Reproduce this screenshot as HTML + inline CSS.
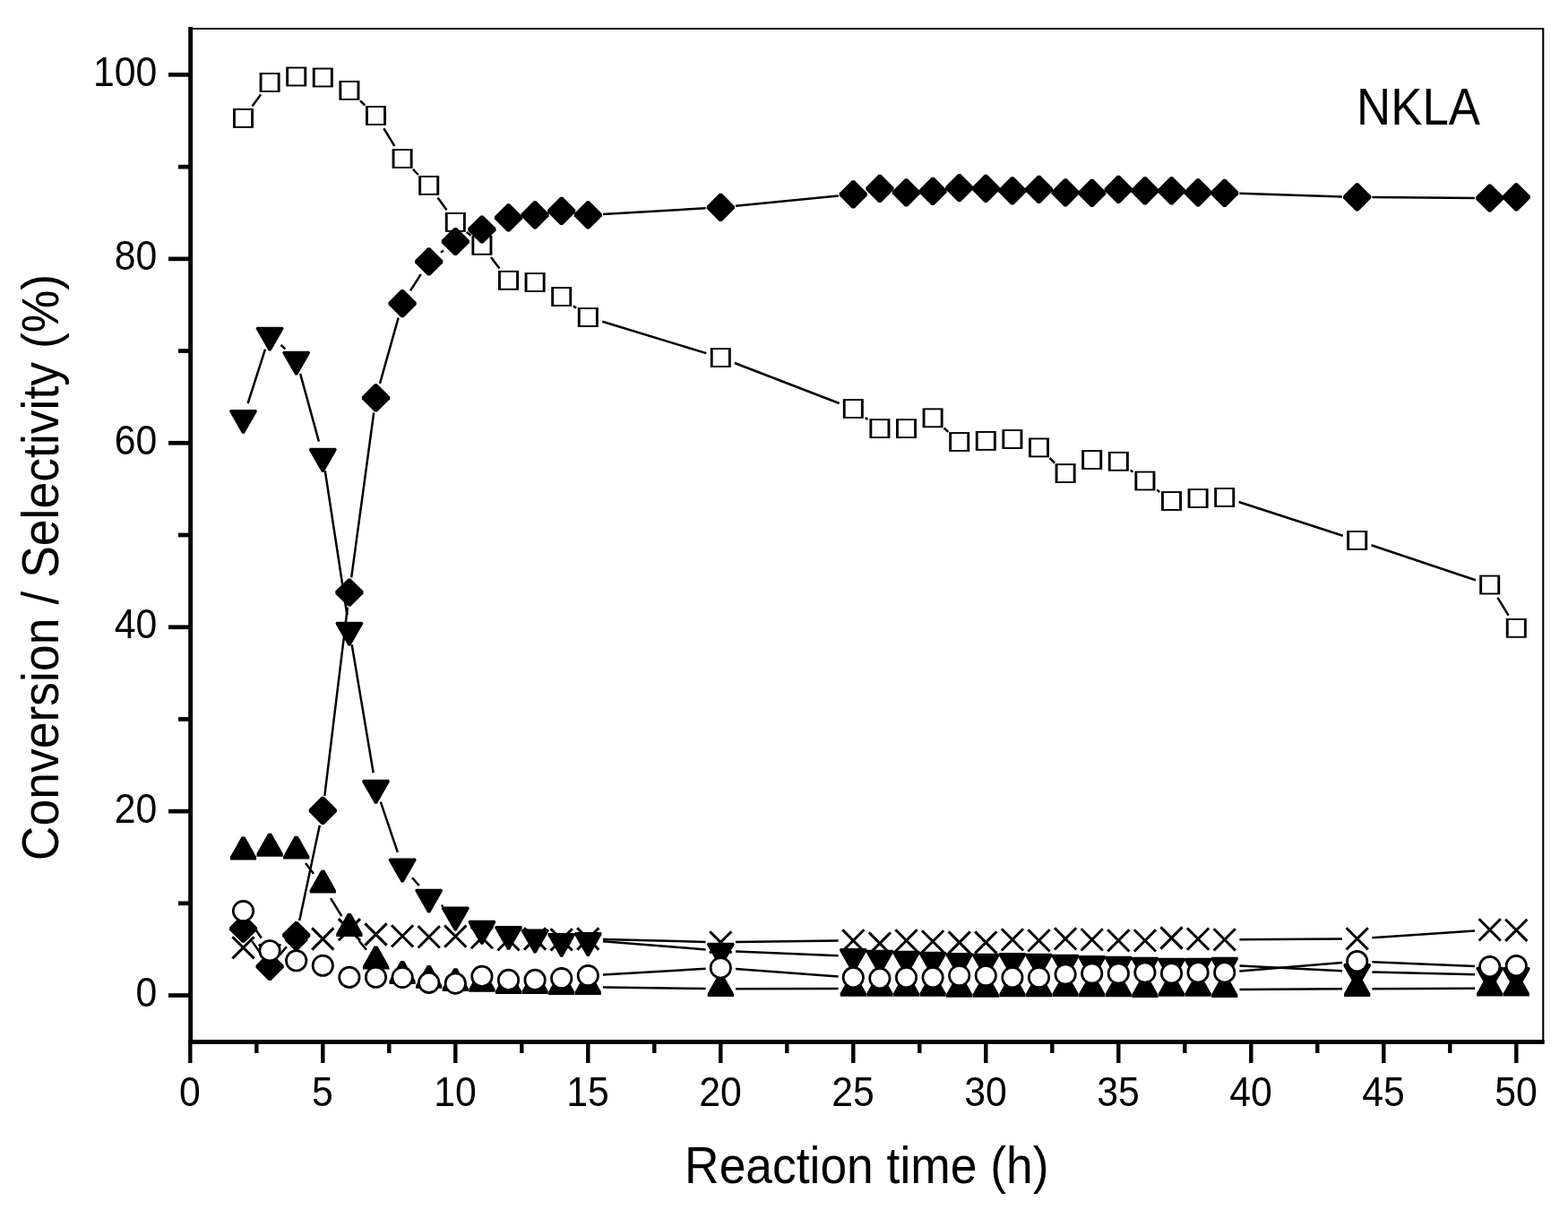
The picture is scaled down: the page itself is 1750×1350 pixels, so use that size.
<!DOCTYPE html>
<html><head><meta charset="utf-8"><title>NKLA</title>
<style>html,body{margin:0;padding:0;background:#fff;overflow:hidden;}svg{display:block;}</style>
</head><body>
<svg width="1750" height="1350" viewBox="0 0 1750 1350">
<rect width="1750" height="1350" fill="#fff"/>
<path d="M281.5 118.5L291.1 105.4M402.0 112.4L407.4 117.5M428.3 143.2L440.3 162.8M460.9 188.8L466.9 195.0M488.5 220.4L498.5 234.3M520.8 258.9L525.4 262.8M548.0 287.1L557.4 299.5M611.8 322.9L612.0 323.0M639.9 341.2L643.1 343.7M672.3 358.8L788.3 394.1M819.9 405.0L936.7 450.0M965.7 466.0L968.5 468.1M1053.5 477.5L1058.3 481.9M1171.5 511.0L1177.1 516.5M1261.8 524.7L1264.4 526.6M1291.2 546.6L1294.2 548.9M1382.6 560.0L1498.8 597.7M1530.5 608.2L1646.9 647.2M1671.4 666.7L1683.6 686.6" stroke="#000" stroke-width="2.5" fill="none"/>
<g fill="#000"><rect x="260.0" y="121.0" width="23" height="21.8" fill="#000"/><rect x="262.9" y="122.9" width="17.2" height="18" fill="#fff"/><rect x="289.6" y="81.1" width="23" height="21.8" fill="#000"/><rect x="292.5" y="83.0" width="17.2" height="18" fill="#fff"/><rect x="319.2" y="74.6" width="23" height="21.8" fill="#000"/><rect x="322.1" y="76.5" width="17.2" height="18" fill="#fff"/><rect x="348.8" y="75.6" width="23" height="21.8" fill="#000"/><rect x="351.7" y="77.5" width="17.2" height="18" fill="#fff"/><rect x="378.4" y="90.0" width="23" height="21.8" fill="#000"/><rect x="381.3" y="91.9" width="17.2" height="18" fill="#fff"/><rect x="408.0" y="118.1" width="23" height="21.8" fill="#000"/><rect x="410.9" y="120.0" width="17.2" height="18" fill="#fff"/><rect x="437.6" y="166.1" width="23" height="21.8" fill="#000"/><rect x="440.5" y="168.0" width="17.2" height="18" fill="#fff"/><rect x="467.2" y="196.0" width="23" height="21.8" fill="#000"/><rect x="470.1" y="197.9" width="17.2" height="18" fill="#fff"/><rect x="496.8" y="237.0" width="23" height="21.8" fill="#000"/><rect x="499.7" y="238.9" width="17.2" height="18" fill="#fff"/><rect x="526.4" y="262.9" width="23" height="21.8" fill="#000"/><rect x="529.3" y="264.8" width="17.2" height="18" fill="#fff"/><rect x="556.0" y="301.9" width="23" height="21.8" fill="#000"/><rect x="558.9" y="303.8" width="17.2" height="18" fill="#fff"/><rect x="585.6" y="304.1" width="23" height="21.8" fill="#000"/><rect x="588.5" y="306.0" width="17.2" height="18" fill="#fff"/><rect x="615.2" y="320.1" width="23" height="21.8" fill="#000"/><rect x="618.1" y="322.0" width="17.2" height="18" fill="#fff"/><rect x="644.8" y="343.1" width="23" height="21.8" fill="#000"/><rect x="647.7" y="345.0" width="17.2" height="18" fill="#fff"/><rect x="792.8" y="388.1" width="23" height="21.8" fill="#000"/><rect x="795.7" y="390.0" width="17.2" height="18" fill="#fff"/><rect x="940.8" y="445.1" width="23" height="21.8" fill="#000"/><rect x="943.7" y="447.0" width="17.2" height="18" fill="#fff"/><rect x="970.4" y="467.2" width="23" height="21.8" fill="#000"/><rect x="973.3" y="469.1" width="17.2" height="18" fill="#fff"/><rect x="1000.0" y="467.2" width="23" height="21.8" fill="#000"/><rect x="1002.9" y="469.1" width="17.2" height="18" fill="#fff"/><rect x="1029.6" y="455.4" width="23" height="21.8" fill="#000"/><rect x="1032.5" y="457.3" width="17.2" height="18" fill="#fff"/><rect x="1059.2" y="482.1" width="23" height="21.8" fill="#000"/><rect x="1062.1" y="484.0" width="17.2" height="18" fill="#fff"/><rect x="1088.8" y="481.0" width="23" height="21.8" fill="#000"/><rect x="1091.7" y="482.9" width="17.2" height="18" fill="#fff"/><rect x="1118.4" y="479.1" width="23" height="21.8" fill="#000"/><rect x="1121.3" y="481.0" width="17.2" height="18" fill="#fff"/><rect x="1148.0" y="488.5" width="23" height="21.8" fill="#000"/><rect x="1150.9" y="490.4" width="17.2" height="18" fill="#fff"/><rect x="1177.6" y="517.2" width="23" height="21.8" fill="#000"/><rect x="1180.5" y="519.1" width="17.2" height="18" fill="#fff"/><rect x="1207.2" y="502.1" width="23" height="21.8" fill="#000"/><rect x="1210.1" y="504.0" width="17.2" height="18" fill="#fff"/><rect x="1236.8" y="503.9" width="23" height="21.8" fill="#000"/><rect x="1239.7" y="505.8" width="17.2" height="18" fill="#fff"/><rect x="1266.4" y="525.6" width="23" height="21.8" fill="#000"/><rect x="1269.3" y="527.5" width="17.2" height="18" fill="#fff"/><rect x="1296.0" y="548.1" width="23" height="21.8" fill="#000"/><rect x="1298.9" y="550.0" width="17.2" height="18" fill="#fff"/><rect x="1325.6" y="545.1" width="23" height="21.8" fill="#000"/><rect x="1328.5" y="547.0" width="17.2" height="18" fill="#fff"/><rect x="1355.2" y="544.0" width="23" height="21.8" fill="#000"/><rect x="1358.1" y="545.9" width="17.2" height="18" fill="#fff"/><rect x="1503.2" y="592.0" width="23" height="21.8" fill="#000"/><rect x="1506.1" y="593.9" width="17.2" height="18" fill="#fff"/><rect x="1651.2" y="641.6" width="23" height="21.8" fill="#000"/><rect x="1654.1" y="643.5" width="17.2" height="18" fill="#fff"/><rect x="1680.8" y="689.9" width="23" height="21.8" fill="#000"/><rect x="1683.7" y="691.8" width="17.2" height="18" fill="#fff"/></g>
<path d="M281.1 1049.9L291.5 1064.8M311.9 1065.7L319.9 1056.3M334.2 1027.2L356.8 920.8M362.3 887.9L387.9 677.6M392.2 644.4L417.2 460.5M424.0 427.9L444.6 354.6M458.0 324.4L469.8 305.9M492.0 281.8L495.0 279.6M673.0 238.9L787.6 232.3M820.9 229.7L935.7 218.6M1383.4 215.8L1498.0 219.4M1531.4 220.0L1646.0 220.9" stroke="#000" stroke-width="2.5" fill="none"/>
<g fill="#000"><path d="M270.1 1020.6L272.9 1020.6L287.1 1034.8L287.1 1037.6L272.9 1051.8L270.1 1051.8L255.9 1037.6L255.9 1034.8Z"/><path d="M299.7 1062.8L302.5 1062.8L316.7 1077.0L316.7 1079.8L302.5 1094.0L299.7 1094.0L285.5 1079.8L285.5 1077.0Z"/><path d="M329.3 1027.9L332.1 1027.9L346.3 1042.1L346.3 1044.9L332.1 1059.1L329.3 1059.1L315.1 1044.9L315.1 1042.1Z"/><path d="M358.9 888.8L361.7 888.8L375.9 903.0L375.9 905.8L361.7 920.0L358.9 920.0L344.7 905.8L344.7 903.0Z"/><path d="M388.5 645.4L391.3 645.4L405.5 659.6L405.5 662.4L391.3 676.6L388.5 676.6L374.3 662.4L374.3 659.6Z"/><path d="M418.1 428.3L420.9 428.3L435.1 442.5L435.1 445.3L420.9 459.5L418.1 459.5L403.9 445.3L403.9 442.5Z"/><path d="M447.7 323.0L450.5 323.0L464.7 337.2L464.7 340.0L450.5 354.2L447.7 354.2L433.5 340.0L433.5 337.2Z"/><path d="M477.3 276.2L480.1 276.2L494.3 290.4L494.3 293.2L480.1 307.4L477.3 307.4L463.1 293.2L463.1 290.4Z"/><path d="M506.9 253.9L509.7 253.9L523.9 268.1L523.9 270.9L509.7 285.1L506.9 285.1L492.7 270.9L492.7 268.1Z"/><path d="M536.5 240.4L539.3 240.4L553.5 254.6L553.5 257.4L539.3 271.6L536.5 271.6L522.3 257.4L522.3 254.6Z"/><path d="M566.1 227.3L568.9 227.3L583.1 241.5L583.1 244.3L568.9 258.5L566.1 258.5L551.9 244.3L551.9 241.5Z"/><path d="M595.7 224.2L598.5 224.2L612.7 238.4L612.7 241.2L598.5 255.4L595.7 255.4L581.5 241.2L581.5 238.4Z"/><path d="M625.3 219.8L628.1 219.8L642.3 234.0L642.3 236.8L628.1 251.0L625.3 251.0L611.1 236.8L611.1 234.0Z"/><path d="M654.9 224.2L657.7 224.2L671.9 238.4L671.9 241.2L657.7 255.4L654.9 255.4L640.7 241.2L640.7 238.4Z"/><path d="M802.9 215.7L805.7 215.7L819.9 229.9L819.9 232.7L805.7 246.9L802.9 246.9L788.7 232.7L788.7 229.9Z"/><path d="M950.9 201.3L953.7 201.3L967.9 215.5L967.9 218.3L953.7 232.5L950.9 232.5L936.7 218.3L936.7 215.5Z"/><path d="M980.5 194.7L983.3 194.7L997.5 208.9L997.5 211.7L983.3 225.9L980.5 225.9L966.3 211.7L966.3 208.9Z"/><path d="M1010.1 199.3L1012.9 199.3L1027.1 213.5L1027.1 216.3L1012.9 230.5L1010.1 230.5L995.9 216.3L995.9 213.5Z"/><path d="M1039.7 197.7L1042.5 197.7L1056.7 211.9L1056.7 214.7L1042.5 228.9L1039.7 228.9L1025.5 214.7L1025.5 211.9Z"/><path d="M1069.3 194.1L1072.1 194.1L1086.3 208.3L1086.3 211.1L1072.1 225.3L1069.3 225.3L1055.1 211.1L1055.1 208.3Z"/><path d="M1098.9 194.8L1101.7 194.8L1115.9 209.0L1115.9 211.8L1101.7 226.0L1098.9 226.0L1084.7 211.8L1084.7 209.0Z"/><path d="M1128.5 197.3L1131.3 197.3L1145.5 211.5L1145.5 214.3L1131.3 228.5L1128.5 228.5L1114.3 214.3L1114.3 211.5Z"/><path d="M1158.1 195.8L1160.9 195.8L1175.1 210.0L1175.1 212.8L1160.9 227.0L1158.1 227.0L1143.9 212.8L1143.9 210.0Z"/><path d="M1187.7 199.3L1190.5 199.3L1204.7 213.5L1204.7 216.3L1190.5 230.5L1187.7 230.5L1173.5 216.3L1173.5 213.5Z"/><path d="M1217.3 199.7L1220.1 199.7L1234.3 213.9L1234.3 216.7L1220.1 230.9L1217.3 230.9L1203.1 216.7L1203.1 213.9Z"/><path d="M1246.9 195.8L1249.7 195.8L1263.9 210.0L1263.9 212.8L1249.7 227.0L1246.9 227.0L1232.7 212.8L1232.7 210.0Z"/><path d="M1276.5 197.2L1279.3 197.2L1293.5 211.4L1293.5 214.2L1279.3 228.4L1276.5 228.4L1262.3 214.2L1262.3 211.4Z"/><path d="M1306.1 197.2L1308.9 197.2L1323.1 211.4L1323.1 214.2L1308.9 228.4L1306.1 228.4L1291.9 214.2L1291.9 211.4Z"/><path d="M1335.7 199.3L1338.5 199.3L1352.7 213.5L1352.7 216.3L1338.5 230.5L1335.7 230.5L1321.5 216.3L1321.5 213.5Z"/><path d="M1365.3 199.7L1368.1 199.7L1382.3 213.9L1382.3 216.7L1368.1 230.9L1365.3 230.9L1351.1 216.7L1351.1 213.9Z"/><path d="M1513.3 204.3L1516.1 204.3L1530.3 218.5L1530.3 221.3L1516.1 235.5L1513.3 235.5L1499.1 221.3L1499.1 218.5Z"/><path d="M1661.3 205.4L1664.1 205.4L1678.3 219.6L1678.3 222.4L1664.1 236.6L1661.3 236.6L1647.1 222.4L1647.1 219.6Z"/><path d="M1690.9 204.3L1693.7 204.3L1707.9 218.5L1707.9 221.3L1693.7 235.5L1690.9 235.5L1676.7 221.3L1676.7 218.5Z"/></g>
<path d="M276.6 450.0L296.0 389.6M313.4 384.9L318.4 389.4M335.1 416.8L355.9 492.7M362.8 525.3L387.4 686.2M392.7 719.2L416.7 862.3M424.8 894.6L443.8 950.8M460.0 979.2L467.8 988.1M492.6 1010.0L494.4 1011.3M672.9 1050.3L787.7 1059.4M821.0 1061.4L935.6 1066.3M1383.4 1077.5L1498.0 1083.3M1531.4 1084.5L1646.0 1087.3" stroke="#000" stroke-width="2.5" fill="none"/>
<g fill="#000"><path d="M257.1 456.9L285.9 456.9L286.9 458.6L286.3 460.3L272.8 483.8L270.2 483.8L256.7 460.3L256.1 458.6Z"/><path d="M286.7 364.7L315.5 364.7L316.5 366.4L315.9 368.1L302.4 391.6L299.8 391.6L286.3 368.1L285.7 366.4Z"/><path d="M316.3 391.7L345.1 391.7L346.1 393.4L345.5 395.1L332.0 418.6L329.4 418.6L315.9 395.1L315.3 393.4Z"/><path d="M345.9 499.8L374.7 499.8L375.7 501.5L375.1 503.2L361.6 526.7L359.0 526.7L345.5 503.2L344.9 501.5Z"/><path d="M375.5 693.7L404.3 693.7L405.3 695.4L404.7 697.1L391.2 720.6L388.6 720.6L375.1 697.1L374.5 695.4Z"/><path d="M405.1 869.8L433.9 869.8L434.9 871.5L434.3 873.2L420.8 896.7L418.2 896.7L404.7 873.2L404.1 871.5Z"/><path d="M434.7 957.6L463.5 957.6L464.5 959.3L463.9 961.0L450.4 984.5L447.8 984.5L434.3 961.0L433.7 959.3Z"/><path d="M464.3 991.7L493.1 991.7L494.1 993.4L493.5 995.1L480.0 1018.6L477.4 1018.6L463.9 995.1L463.3 993.4Z"/><path d="M493.9 1011.6L522.7 1011.6L523.7 1013.3L523.1 1015.0L509.6 1038.5L507.0 1038.5L493.5 1015.0L492.9 1013.3Z"/><path d="M523.5 1026.8L552.3 1026.8L553.3 1028.5L552.7 1030.2L539.2 1053.7L536.6 1053.7L523.1 1030.2L522.5 1028.5Z"/><path d="M553.1 1032.9L581.9 1032.9L582.9 1034.6L582.3 1036.3L568.8 1059.8L566.2 1059.8L552.7 1036.3L552.1 1034.6Z"/><path d="M582.7 1036.6L611.5 1036.6L612.5 1038.3L611.9 1040.0L598.4 1063.5L595.8 1063.5L582.3 1040.0L581.7 1038.3Z"/><path d="M612.3 1040.9L641.1 1040.9L642.1 1042.6L641.5 1044.3L628.0 1067.8L625.4 1067.8L611.9 1044.3L611.3 1042.6Z"/><path d="M641.9 1040.0L670.7 1040.0L671.7 1041.7L671.1 1043.4L657.6 1066.9L655.0 1066.9L641.5 1043.4L640.9 1041.7Z"/><path d="M789.9 1051.7L818.7 1051.7L819.7 1053.4L819.1 1055.1L805.6 1078.6L803.0 1078.6L789.5 1055.1L788.9 1053.4Z"/><path d="M937.9 1058.0L966.7 1058.0L967.7 1059.7L967.1 1061.4L953.6 1084.9L951.0 1084.9L937.5 1061.4L936.9 1059.7Z"/><path d="M967.5 1059.8L996.3 1059.8L997.3 1061.5L996.7 1063.2L983.2 1086.7L980.6 1086.7L967.1 1063.2L966.5 1061.5Z"/><path d="M997.1 1060.8L1025.9 1060.8L1026.9 1062.5L1026.3 1064.2L1012.8 1087.7L1010.2 1087.7L996.7 1064.2L996.1 1062.5Z"/><path d="M1026.7 1061.8L1055.5 1061.8L1056.5 1063.5L1055.9 1065.2L1042.4 1088.7L1039.8 1088.7L1026.3 1065.2L1025.7 1063.5Z"/><path d="M1056.3 1062.9L1085.1 1062.9L1086.1 1064.6L1085.5 1066.3L1072.0 1089.8L1069.4 1089.8L1055.9 1066.3L1055.3 1064.6Z"/><path d="M1085.9 1063.7L1114.7 1063.7L1115.7 1065.4L1115.1 1067.1L1101.6 1090.6L1099.0 1090.6L1085.5 1067.1L1084.9 1065.4Z"/><path d="M1115.5 1062.9L1144.3 1062.9L1145.3 1064.6L1144.7 1066.3L1131.2 1089.8L1128.6 1089.8L1115.1 1066.3L1114.5 1064.6Z"/><path d="M1145.1 1063.7L1173.9 1063.7L1174.9 1065.4L1174.3 1067.1L1160.8 1090.6L1158.2 1090.6L1144.7 1067.1L1144.1 1065.4Z"/><path d="M1174.7 1064.8L1203.5 1064.8L1204.5 1066.5L1203.9 1068.2L1190.4 1091.7L1187.8 1091.7L1174.3 1068.2L1173.7 1066.5Z"/><path d="M1204.3 1066.0L1233.1 1066.0L1234.1 1067.7L1233.5 1069.4L1220.0 1092.9L1217.4 1092.9L1203.9 1069.4L1203.3 1067.7Z"/><path d="M1233.9 1066.8L1262.7 1066.8L1263.7 1068.5L1263.1 1070.2L1249.6 1093.7L1247.0 1093.7L1233.5 1070.2L1232.9 1068.5Z"/><path d="M1263.5 1067.7L1292.3 1067.7L1293.3 1069.4L1292.7 1071.1L1279.2 1094.6L1276.6 1094.6L1263.1 1071.1L1262.5 1069.4Z"/><path d="M1293.1 1068.7L1321.9 1068.7L1322.9 1070.4L1322.3 1072.1L1308.8 1095.6L1306.2 1095.6L1292.7 1072.1L1292.1 1070.4Z"/><path d="M1322.7 1068.7L1351.5 1068.7L1352.5 1070.4L1351.9 1072.1L1338.4 1095.6L1335.8 1095.6L1322.3 1072.1L1321.7 1070.4Z"/><path d="M1352.3 1067.7L1381.1 1067.7L1382.1 1069.4L1381.5 1071.1L1368.0 1094.6L1365.4 1094.6L1351.9 1071.1L1351.3 1069.4Z"/><path d="M1500.3 1075.1L1529.1 1075.1L1530.1 1076.8L1529.5 1078.5L1516.0 1102.0L1513.4 1102.0L1499.9 1078.5L1499.3 1076.8Z"/><path d="M1648.3 1078.7L1677.1 1078.7L1678.1 1080.4L1677.5 1082.1L1664.0 1105.6L1661.4 1105.6L1647.9 1082.1L1647.3 1080.4Z"/><path d="M1677.9 1079.0L1706.7 1079.0L1707.7 1080.7L1707.1 1082.4L1693.6 1105.9L1691.0 1105.9L1677.5 1082.4L1676.9 1080.7Z"/></g>
<path d="M341.0 963.0L350.0 974.7M369.0 1002.1L381.2 1022.0M400.4 1049.2L409.0 1059.7M434.1 1080.8L434.5 1081.1M673.0 1101.4L787.6 1103.0M821.0 1103.2L935.6 1102.9M1383.4 1104.0L1498.0 1103.3M1531.4 1103.2L1646.0 1102.8" stroke="#000" stroke-width="2.5" fill="none"/>
<g fill="#000"><path d="M256.9 959.5L286.1 959.5L286.1 956.1L273.4 933.6L269.6 933.6L256.9 956.1Z"/><path d="M286.5 955.7L315.7 955.7L315.7 952.3L303.0 929.8L299.2 929.8L286.5 952.3Z"/><path d="M316.1 958.6L345.3 958.6L345.3 955.2L332.6 932.7L328.8 932.7L316.1 955.2Z"/><path d="M345.7 996.6L374.9 996.6L374.9 993.2L362.2 970.7L358.4 970.7L345.7 993.2Z"/><path d="M375.3 1045.0L404.5 1045.0L404.5 1041.6L391.8 1019.1L388.0 1019.1L375.3 1041.6Z"/><path d="M404.9 1081.5L434.1 1081.5L434.1 1078.1L421.4 1055.6L417.6 1055.6L404.9 1078.1Z"/><path d="M434.5 1098.0L463.7 1098.0L463.7 1094.6L451.0 1072.1L447.2 1072.1L434.5 1094.6Z"/><path d="M464.1 1102.8L493.3 1102.8L493.3 1099.4L480.6 1076.9L476.8 1076.9L464.1 1099.4Z"/><path d="M493.7 1106.1L522.9 1106.1L522.9 1102.7L510.2 1080.2L506.4 1080.2L493.7 1102.7Z"/><path d="M523.3 1106.8L552.5 1106.8L552.5 1103.4L539.8 1080.9L536.0 1080.9L523.3 1103.4Z"/><path d="M552.9 1109.1L582.1 1109.1L582.1 1105.7L569.4 1083.2L565.6 1083.2L552.9 1105.7Z"/><path d="M582.5 1109.1L611.7 1109.1L611.7 1105.7L599.0 1083.2L595.2 1083.2L582.5 1105.7Z"/><path d="M612.1 1109.9L641.3 1109.9L641.3 1106.5L628.6 1084.0L624.8 1084.0L612.1 1106.5Z"/><path d="M641.7 1109.9L670.9 1109.9L670.9 1106.5L658.2 1084.0L654.4 1084.0L641.7 1106.5Z"/><path d="M789.7 1112.0L818.9 1112.0L818.9 1108.6L806.2 1086.1L802.4 1086.1L789.7 1108.6Z"/><path d="M937.7 1111.7L966.9 1111.7L966.9 1108.3L954.2 1085.8L950.4 1085.8L937.7 1108.3Z"/><path d="M967.3 1111.7L996.5 1111.7L996.5 1108.3L983.8 1085.8L980.0 1085.8L967.3 1108.3Z"/><path d="M996.9 1111.7L1026.1 1111.7L1026.1 1108.3L1013.4 1085.8L1009.6 1085.8L996.9 1108.3Z"/><path d="M1026.5 1111.7L1055.7 1111.7L1055.7 1108.3L1043.0 1085.8L1039.2 1085.8L1026.5 1108.3Z"/><path d="M1056.1 1112.7L1085.3 1112.7L1085.3 1109.3L1072.6 1086.8L1068.8 1086.8L1056.1 1109.3Z"/><path d="M1085.7 1112.7L1114.9 1112.7L1114.9 1109.3L1102.2 1086.8L1098.4 1086.8L1085.7 1109.3Z"/><path d="M1115.3 1112.2L1144.5 1112.2L1144.5 1108.8L1131.8 1086.3L1128.0 1086.3L1115.3 1108.8Z"/><path d="M1144.9 1112.2L1174.1 1112.2L1174.1 1108.8L1161.4 1086.3L1157.6 1086.3L1144.9 1108.8Z"/><path d="M1174.5 1112.0L1203.7 1112.0L1203.7 1108.6L1191.0 1086.1L1187.2 1086.1L1174.5 1108.6Z"/><path d="M1204.1 1112.2L1233.3 1112.2L1233.3 1108.8L1220.6 1086.3L1216.8 1086.3L1204.1 1108.8Z"/><path d="M1233.7 1112.2L1262.9 1112.2L1262.9 1108.8L1250.2 1086.3L1246.4 1086.3L1233.7 1108.8Z"/><path d="M1263.3 1112.9L1292.5 1112.9L1292.5 1109.5L1279.8 1087.0L1276.0 1087.0L1263.3 1109.5Z"/><path d="M1292.9 1111.7L1322.1 1111.7L1322.1 1108.3L1309.4 1085.8L1305.6 1085.8L1292.9 1108.3Z"/><path d="M1322.5 1111.7L1351.7 1111.7L1351.7 1108.3L1339.0 1085.8L1335.2 1085.8L1322.5 1108.3Z"/><path d="M1352.1 1112.9L1381.3 1112.9L1381.3 1109.5L1368.6 1087.0L1364.8 1087.0L1352.1 1109.5Z"/><path d="M1500.1 1112.0L1529.3 1112.0L1529.3 1108.6L1516.6 1086.1L1512.8 1086.1L1500.1 1108.6Z"/><path d="M1648.1 1111.6L1677.3 1111.6L1677.3 1108.2L1664.6 1085.7L1660.8 1085.7L1648.1 1108.2Z"/><path d="M1677.7 1111.6L1706.9 1111.6L1706.9 1108.2L1694.2 1085.7L1690.4 1085.7L1677.7 1108.2Z"/></g>
<path d="M673.0 1048.0L787.6 1050.9M821.0 1051.1L935.6 1049.6M1383.4 1048.2L1498.0 1047.4M1531.4 1046.2L1646.0 1038.5" stroke="#000" stroke-width="2.5" fill="none"/>
<g fill="#000"><path d="M259.4 1045.2L283.6 1069.4M259.4 1069.4L283.6 1045.2" stroke="#000" stroke-width="3.0" fill="none"/><path d="M289.0 1053.5L313.2 1077.7M289.0 1077.7L313.2 1053.5" stroke="#000" stroke-width="3.0" fill="none"/><path d="M318.6 1047.9L342.8 1072.1M318.6 1072.1L342.8 1047.9" stroke="#000" stroke-width="3.0" fill="none"/><path d="M348.2 1035.4L372.4 1059.6M348.2 1059.6L372.4 1035.4" stroke="#000" stroke-width="3.0" fill="none"/><path d="M377.8 1025.1L402.0 1049.3M377.8 1049.3L402.0 1025.1" stroke="#000" stroke-width="3.0" fill="none"/><path d="M407.4 1030.4L431.6 1054.6M407.4 1054.6L431.6 1030.4" stroke="#000" stroke-width="3.0" fill="none"/><path d="M437.0 1032.3L461.2 1056.5M437.0 1056.5L461.2 1032.3" stroke="#000" stroke-width="3.0" fill="none"/><path d="M466.6 1033.3L490.8 1057.5M466.6 1057.5L490.8 1033.3" stroke="#000" stroke-width="3.0" fill="none"/><path d="M496.2 1032.6L520.4 1056.8M496.2 1056.8L520.4 1032.6" stroke="#000" stroke-width="3.0" fill="none"/><path d="M525.8 1034.0L550.0 1058.2M525.8 1058.2L550.0 1034.0" stroke="#000" stroke-width="3.0" fill="none"/><path d="M555.4 1036.3L579.6 1060.5M555.4 1060.5L579.6 1036.3" stroke="#000" stroke-width="3.0" fill="none"/><path d="M585.0 1035.4L609.2 1059.6M585.0 1059.6L609.2 1035.4" stroke="#000" stroke-width="3.0" fill="none"/><path d="M614.6 1036.3L638.8 1060.5M614.6 1060.5L638.8 1036.3" stroke="#000" stroke-width="3.0" fill="none"/><path d="M644.2 1035.4L668.4 1059.6M644.2 1059.6L668.4 1035.4" stroke="#000" stroke-width="3.0" fill="none"/><path d="M792.2 1039.2L816.4 1063.4M792.2 1063.4L816.4 1039.2" stroke="#000" stroke-width="3.0" fill="none"/><path d="M940.2 1037.3L964.4 1061.5M940.2 1061.5L964.4 1037.3" stroke="#000" stroke-width="3.0" fill="none"/><path d="M969.8 1040.4L994.0 1064.6M969.8 1064.6L994.0 1040.4" stroke="#000" stroke-width="3.0" fill="none"/><path d="M999.4 1037.3L1023.6 1061.5M999.4 1061.5L1023.6 1037.3" stroke="#000" stroke-width="3.0" fill="none"/><path d="M1029.0 1038.3L1053.2 1062.5M1029.0 1062.5L1053.2 1038.3" stroke="#000" stroke-width="3.0" fill="none"/><path d="M1058.6 1039.4L1082.8 1063.6M1058.6 1063.6L1082.8 1039.4" stroke="#000" stroke-width="3.0" fill="none"/><path d="M1088.2 1039.4L1112.4 1063.6M1088.2 1063.6L1112.4 1039.4" stroke="#000" stroke-width="3.0" fill="none"/><path d="M1117.8 1036.3L1142.0 1060.5M1117.8 1060.5L1142.0 1036.3" stroke="#000" stroke-width="3.0" fill="none"/><path d="M1147.4 1037.3L1171.6 1061.5M1147.4 1061.5L1171.6 1037.3" stroke="#000" stroke-width="3.0" fill="none"/><path d="M1177.0 1035.3L1201.2 1059.5M1177.0 1059.5L1201.2 1035.3" stroke="#000" stroke-width="3.0" fill="none"/><path d="M1206.6 1036.3L1230.8 1060.5M1206.6 1060.5L1230.8 1036.3" stroke="#000" stroke-width="3.0" fill="none"/><path d="M1236.2 1037.3L1260.4 1061.5M1236.2 1061.5L1260.4 1037.3" stroke="#000" stroke-width="3.0" fill="none"/><path d="M1265.8 1037.3L1290.0 1061.5M1265.8 1061.5L1290.0 1037.3" stroke="#000" stroke-width="3.0" fill="none"/><path d="M1295.4 1034.4L1319.6 1058.6M1295.4 1058.6L1319.6 1034.4" stroke="#000" stroke-width="3.0" fill="none"/><path d="M1325.0 1035.5L1349.2 1059.7M1325.0 1059.7L1349.2 1035.5" stroke="#000" stroke-width="3.0" fill="none"/><path d="M1354.6 1036.3L1378.8 1060.5M1354.6 1060.5L1378.8 1036.3" stroke="#000" stroke-width="3.0" fill="none"/><path d="M1502.6 1035.2L1526.8 1059.4M1502.6 1059.4L1526.8 1035.2" stroke="#000" stroke-width="3.0" fill="none"/><path d="M1650.6 1025.3L1674.8 1049.5M1650.6 1049.5L1674.8 1025.3" stroke="#000" stroke-width="3.0" fill="none"/><path d="M1680.2 1025.7L1704.4 1049.9M1680.2 1049.9L1704.4 1025.7" stroke="#000" stroke-width="3.0" fill="none"/></g>
<path d="M280.8 1030.4L291.8 1046.8M673.0 1087.5L787.6 1080.8M821.0 1081.0L935.6 1089.4M1383.3 1083.5L1498.1 1074.0M1531.4 1073.3L1646.0 1077.9" stroke="#000" stroke-width="2.5" fill="none"/>
<g fill="#000"><circle cx="271.5" cy="1016.5" r="11.2" fill="#fff" stroke="#000" stroke-width="2.7"/><circle cx="301.1" cy="1060.7" r="11.2" fill="#fff" stroke="#000" stroke-width="2.7"/><circle cx="330.7" cy="1071.8" r="11.2" fill="#fff" stroke="#000" stroke-width="2.7"/><circle cx="360.3" cy="1077.3" r="11.2" fill="#fff" stroke="#000" stroke-width="2.7"/><circle cx="389.9" cy="1090.4" r="11.2" fill="#fff" stroke="#000" stroke-width="2.7"/><circle cx="419.5" cy="1090.3" r="11.2" fill="#fff" stroke="#000" stroke-width="2.7"/><circle cx="449.1" cy="1090.5" r="11.2" fill="#fff" stroke="#000" stroke-width="2.7"/><circle cx="478.7" cy="1096.4" r="11.2" fill="#fff" stroke="#000" stroke-width="2.7"/><circle cx="508.3" cy="1097.2" r="11.2" fill="#fff" stroke="#000" stroke-width="2.7"/><circle cx="537.9" cy="1089.4" r="11.2" fill="#fff" stroke="#000" stroke-width="2.7"/><circle cx="567.5" cy="1093.4" r="11.2" fill="#fff" stroke="#000" stroke-width="2.7"/><circle cx="597.1" cy="1093.4" r="11.2" fill="#fff" stroke="#000" stroke-width="2.7"/><circle cx="626.7" cy="1091.5" r="11.2" fill="#fff" stroke="#000" stroke-width="2.7"/><circle cx="656.3" cy="1088.5" r="11.2" fill="#fff" stroke="#000" stroke-width="2.7"/><circle cx="804.3" cy="1079.8" r="11.2" fill="#fff" stroke="#000" stroke-width="2.7"/><circle cx="952.3" cy="1090.6" r="11.2" fill="#fff" stroke="#000" stroke-width="2.7"/><circle cx="981.9" cy="1091.6" r="11.2" fill="#fff" stroke="#000" stroke-width="2.7"/><circle cx="1011.5" cy="1090.6" r="11.2" fill="#fff" stroke="#000" stroke-width="2.7"/><circle cx="1041.1" cy="1090.6" r="11.2" fill="#fff" stroke="#000" stroke-width="2.7"/><circle cx="1070.7" cy="1088.5" r="11.2" fill="#fff" stroke="#000" stroke-width="2.7"/><circle cx="1100.3" cy="1088.5" r="11.2" fill="#fff" stroke="#000" stroke-width="2.7"/><circle cx="1129.9" cy="1090.6" r="11.2" fill="#fff" stroke="#000" stroke-width="2.7"/><circle cx="1159.5" cy="1090.5" r="11.2" fill="#fff" stroke="#000" stroke-width="2.7"/><circle cx="1189.1" cy="1087.0" r="11.2" fill="#fff" stroke="#000" stroke-width="2.7"/><circle cx="1218.7" cy="1086.0" r="11.2" fill="#fff" stroke="#000" stroke-width="2.7"/><circle cx="1248.3" cy="1086.0" r="11.2" fill="#fff" stroke="#000" stroke-width="2.7"/><circle cx="1277.9" cy="1085.0" r="11.2" fill="#fff" stroke="#000" stroke-width="2.7"/><circle cx="1307.5" cy="1085.9" r="11.2" fill="#fff" stroke="#000" stroke-width="2.7"/><circle cx="1337.1" cy="1084.9" r="11.2" fill="#fff" stroke="#000" stroke-width="2.7"/><circle cx="1366.7" cy="1084.9" r="11.2" fill="#fff" stroke="#000" stroke-width="2.7"/><circle cx="1514.7" cy="1072.6" r="11.2" fill="#fff" stroke="#000" stroke-width="2.7"/><circle cx="1662.7" cy="1078.6" r="11.2" fill="#fff" stroke="#000" stroke-width="2.7"/><circle cx="1692.3" cy="1077.6" r="11.2" fill="#fff" stroke="#000" stroke-width="2.7"/></g>
<g fill="#000"><rect x="188" y="1108.2" width="23" height="4.7"/><rect x="188" y="902.8" width="23" height="4.7"/><rect x="188" y="697.4" width="23" height="4.7"/><rect x="188" y="491.9" width="23" height="4.7"/><rect x="188" y="286.5" width="23" height="4.7"/><rect x="188" y="81.0" width="23" height="4.7"/><rect x="199" y="1005.5" width="12" height="4.7"/><rect x="199" y="800.1" width="12" height="4.7"/><rect x="199" y="594.6" width="12" height="4.7"/><rect x="199" y="389.2" width="12" height="4.7"/><rect x="199" y="183.8" width="12" height="4.7"/><rect x="210.1" y="1164" width="4.4" height="22"/><rect x="358.1" y="1164" width="4.4" height="22"/><rect x="506.1" y="1164" width="4.4" height="22"/><rect x="654.1" y="1164" width="4.4" height="22"/><rect x="802.1" y="1164" width="4.4" height="22"/><rect x="950.1" y="1164" width="4.4" height="22"/><rect x="1098.1" y="1164" width="4.4" height="22"/><rect x="1246.1" y="1164" width="4.4" height="22"/><rect x="1394.1" y="1164" width="4.4" height="22"/><rect x="1542.1" y="1164" width="4.4" height="22"/><rect x="1690.1" y="1164" width="4.4" height="22"/><rect x="284.1" y="1164" width="4.4" height="11"/><rect x="432.1" y="1164" width="4.4" height="11"/><rect x="580.1" y="1164" width="4.4" height="11"/><rect x="728.1" y="1164" width="4.4" height="11"/><rect x="876.1" y="1164" width="4.4" height="11"/><rect x="1024.1" y="1164" width="4.4" height="11"/><rect x="1172.1" y="1164" width="4.4" height="11"/><rect x="1320.1" y="1164" width="4.4" height="11"/><rect x="1468.1" y="1164" width="4.4" height="11"/><rect x="1616.1" y="1164" width="4.4" height="11"/><rect x="210.2" y="30" width="4.9" height="1135"/><rect x="210.2" y="1160" width="1513.5" height="4.9"/><rect x="215" y="31" width="1508" height="2"/><rect x="1721.2" y="31" width="2.1" height="1131"/></g>
<g font-family="'Liberation Sans', sans-serif" font-size="46" fill="#000"><text transform="translate(175.3 1123.1) scale(0.930 1)" text-anchor="end">0</text><text transform="translate(175.3 917.7) scale(0.930 1)" text-anchor="end">20</text><text transform="translate(175.3 712.2) scale(0.930 1)" text-anchor="end">40</text><text transform="translate(175.3 506.8) scale(0.930 1)" text-anchor="end">60</text><text transform="translate(175.3 301.3) scale(0.930 1)" text-anchor="end">80</text><text transform="translate(175.3 95.9) scale(0.930 1)" text-anchor="end">100</text><text transform="translate(212.0 1234) scale(0.930 1)" text-anchor="middle">0</text><text transform="translate(360.0 1234) scale(0.930 1)" text-anchor="middle">5</text><text transform="translate(508.0 1234) scale(0.930 1)" text-anchor="middle">10</text><text transform="translate(656.0 1234) scale(0.930 1)" text-anchor="middle">15</text><text transform="translate(804.0 1234) scale(0.930 1)" text-anchor="middle">20</text><text transform="translate(952.0 1234) scale(0.930 1)" text-anchor="middle">25</text><text transform="translate(1100.0 1234) scale(0.930 1)" text-anchor="middle">30</text><text transform="translate(1248.0 1234) scale(0.930 1)" text-anchor="middle">35</text><text transform="translate(1396.0 1234) scale(0.930 1)" text-anchor="middle">40</text><text transform="translate(1544.0 1234) scale(0.930 1)" text-anchor="middle">45</text><text transform="translate(1692.0 1234) scale(0.930 1)" text-anchor="middle">50</text></g>
<text transform="translate(1583 139) scale(0.930 1)" text-anchor="middle" font-family="'Liberation Sans', sans-serif" font-size="56.8" fill="#000">NKLA</text>
<text transform="translate(967.3 1320) scale(0.940 1)" text-anchor="middle" font-family="'Liberation Sans', sans-serif" font-size="56.8" fill="#000">Reaction time (h)</text>
<text transform="translate(64.5 633) rotate(-90) scale(0.923 1)" text-anchor="middle" font-family="'Liberation Sans', sans-serif" font-size="58" fill="#000">Conversion / Selectivity (%)</text>
</svg>
</body></html>
